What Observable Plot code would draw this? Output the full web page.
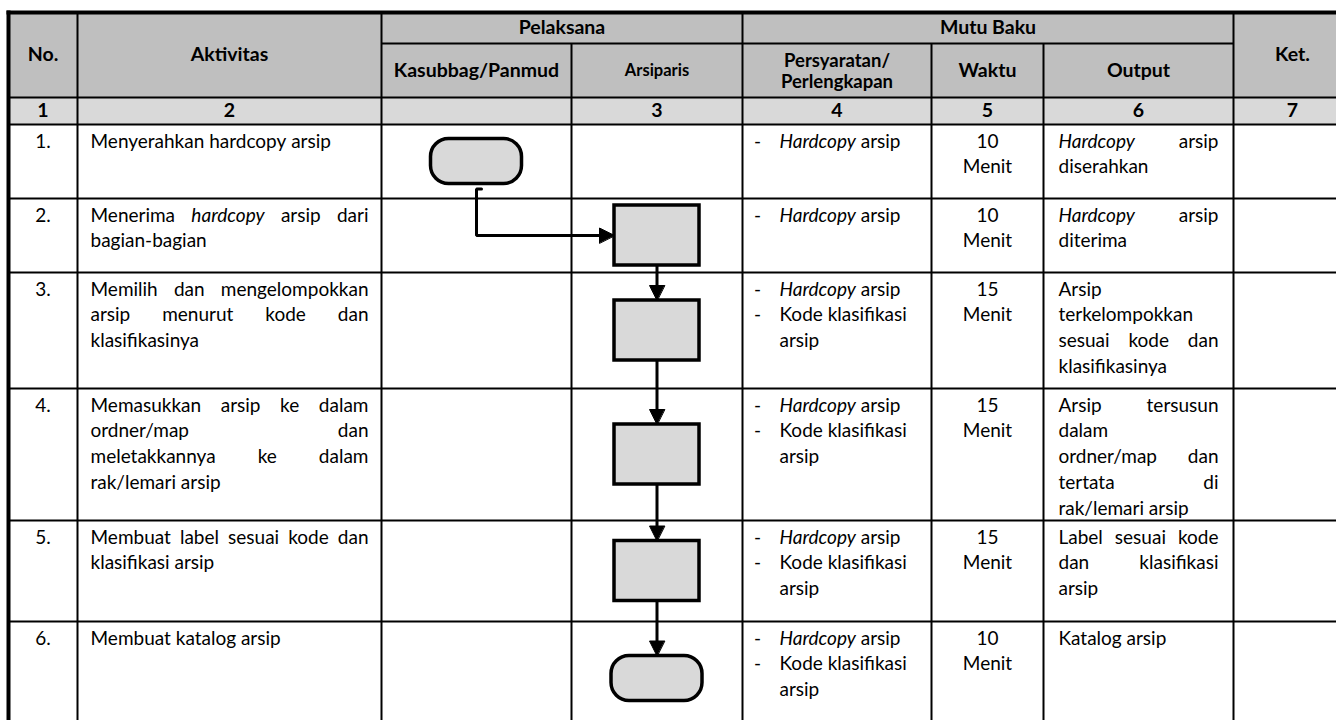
<!DOCTYPE html>
<html><head><meta charset="utf-8">
<script src="https://cdn.jsdelivr.net/npm/d3@7"></script>
<script src="https://cdn.jsdelivr.net/npm/@observablehq/plot@0.6"></script>
<style>
html,body{margin:0;padding:0;background:#fff;overflow:hidden;}
#chart svg{display:block;overflow:hidden;}
</style>
</head><body><div id="chart"></div>
<script>
// ---------------- data ----------------
const headerGroups = ["Pelaksana", "Mutu Baku"];
const columnHeaders = ["No.", "Aktivitas", "Kasubbag/Panmud", "Arsiparis", "Persyaratan/\nPerlengkapan", "Waktu", "Output", "Ket."];
const columnNumbers = ["1", "2", "", "3", "4", "5", "6", "7"];

const stepNo = ["1.", "2.", "3.", "4.", "5.", "6."];
const activities = [
  "Menyerahkan hardcopy arsip",
  "Menerima *hardcopy* arsip dari\nbagian-bagian",
  "Memilih dan mengelompokkan\narsip menurut kode dan\nklasifikasinya",
  "Memasukkan arsip ke dalam\nordner/map dan\nmeletakkannya ke dalam\nrak/lemari arsip",
  "Membuat label sesuai kode dan\nklasifikasi arsip",
  "Membuat katalog arsip"
];
const stepExecutor = [0, 1, 1, 1, 1, 1];           // 0 = Kasubbag/Panmud, 1 = Arsiparis
const stepSymbol = ["terminator", "process", "process", "process", "process", "terminator"];
const requirements = [
  ["*Hardcopy* arsip"],
  ["*Hardcopy* arsip"],
  ["*Hardcopy* arsip", "Kode klasifikasi\narsip"],
  ["*Hardcopy* arsip", "Kode klasifikasi\narsip"],
  ["*Hardcopy* arsip", "Kode klasifikasi\narsip"],
  ["*Hardcopy* arsip", "Kode klasifikasi\narsip"]
];
const durations = [10, 10, 15, 15, 15, 10];
const durationUnit = "Menit";
const outputs = [
  "*Hardcopy* arsip\ndiserahkan",
  "*Hardcopy* arsip\nditerima",
  "Arsip\nterkelompokkan\nsesuai kode dan\nklasifikasinya",
  "Arsip tersusun\ndalam\nordner/map dan\ntertata di\nrak/lemari arsip",
  "Label sesuai kode\ndan klasifikasi\narsip",
  "Katalog arsip"
];

// ---------------- layout ----------------
const W = 1336, H = 720;
const colEdges = [8, 77, 381, 571, 742, 931, 1043, 1233, 1351];
const rowEdges = [12, 43, 97, 124, 198, 272, 388, 520, 621, 735];
const FONT = "Lato, 'Open Sans', sans-serif";
const FS = 19, HFS = 19.5, LH = 25.8, PAD = 13;
const colCenter = i => (colEdges[i] + colEdges[i + 1]) / 2;

const ctx = document.createElement("canvas").getContext("2d");
function measure(t, italic) { ctx.font = `${italic ? "italic " : ""}${FS}px Lato`; return ctx.measureText(t).width; }
function tokens(line) {
  return line.split(" ").filter(s => s.length).map(s => {
    const it = /^\*.*\*$/.test(s);
    return {t: it ? s.slice(1, -1) : s, italic: it};
  });
}
function layoutLines(lines, x0, width, y0, justify, out) {
  const space = measure(" ", false);
  lines.forEach((line, i) => {
    const ws = tokens(line);
    const widths = ws.map(w => measure(w.t, w.italic));
    const sum = d3.sum(widths);
    let gap = space;
    if (justify && i < lines.length - 1 && ws.length > 1) gap = Math.max(space * 0.4, (width - sum) / (ws.length - 1));
    let x = x0;
    ws.forEach((w, j) => { out.push({x, y: y0 + i * LH, t: w.t, italic: w.italic}); x += widths[j] + gap; });
  });
}

// body text
const words = [], centered = [], dashes = [];
stepNo.forEach((no, i) => {
  const top = rowEdges[3 + i], y0 = top + 17;
  centered.push({x: colCenter(0), y: y0, t: no});
  layoutLines(activities[i].split("\n"), colEdges[1] + PAD, colEdges[2] - colEdges[1] - 2 * PAD, y0, true, words);
  let k = 0;
  requirements[i].forEach(item => {
    dashes.push({x: colEdges[4] + 15, y: y0 + k * LH, t: "-"});
    const ls = item.split("\n");
    layoutLines(ls, colEdges[4] + 37, colEdges[5] - colEdges[4] - 48, y0 + k * LH, false, words);
    k += ls.length;
  });
  centered.push({x: colCenter(5), y: y0, t: String(durations[i])});
  centered.push({x: colCenter(5), y: y0 + LH, t: durationUnit});
  layoutLines(outputs[i].split("\n"), colEdges[6] + 15, colEdges[7] - colEdges[6] - 30, y0, true, words);
});

// header text
const hdrMid = (rowEdges[0] + rowEdges[2]) / 2, grpMid = (rowEdges[0] + rowEdges[1]) / 2, subMid = (rowEdges[1] + rowEdges[2]) / 2;
const headerBig = [
  {x: colCenter(0), y: hdrMid, t: columnHeaders[0]},
  {x: colCenter(1), y: hdrMid, t: columnHeaders[1]},
  {x: colCenter(7), y: hdrMid, t: columnHeaders[7]},
  {x: (colEdges[2] + colEdges[4]) / 2, y: grpMid, t: headerGroups[0]},
  {x: (colEdges[4] + colEdges[7]) / 2, y: grpMid, t: headerGroups[1]},
  {x: colCenter(2), y: subMid, t: columnHeaders[2]},
  {x: colCenter(5), y: subMid, t: columnHeaders[5]},
  {x: colCenter(6), y: subMid, t: columnHeaders[6]}
];
const headerTwoLine = [{x: colCenter(4), y: subMid, t: columnHeaders[4]}];
const headerSmall = [{x: colCenter(3), y: subMid, t: columnHeaders[3]}];
const numMid = (rowEdges[2] + rowEdges[3]) / 2;
const numberTexts = columnNumbers.map((t, i) => ({x: colCenter(i), y: numMid, t})).filter(d => d.t);

// fills
const fills = [
  {x1: colEdges[0], x2: colEdges[8], y1: rowEdges[0], y2: rowEdges[2], f: "#bfbfbf"},
  {x1: colEdges[0], x2: colEdges[8], y1: rowEdges[2], y2: rowEdges[3], f: "#d9d9d9"}
];

// grid lines
const bottom = rowEdges[rowEdges.length - 1];
const thin = [], thick = [];
const vTop = [0, 0, 0, 1, 0, 1, 1, 0, 0];
colEdges.forEach((x, i) => {
  const seg = {x1: x, x2: x, y1: rowEdges[vTop[i]], y2: bottom};
  (i === 0 || i === colEdges.length - 1 ? thick : thin).push(seg);
});
thick.push({x1: colEdges[0], x2: colEdges[8], y1: rowEdges[0], y2: rowEdges[0]});
thin.push({x1: colEdges[2], x2: colEdges[7], y1: rowEdges[1], y2: rowEdges[1]});
rowEdges.slice(2, -1).forEach(y => thin.push({x1: colEdges[0], x2: colEdges[8], y1: y, y2: y}));

// flowchart symbols
const dims = {process: [85, 60], terminator: [91, 45]};
const shapes = stepSymbol.map((s, i) => {
  const cx = colCenter(2 + stepExecutor[i]);
  const cy = (rowEdges[3 + i] + rowEdges[4 + i]) / 2;
  const [w, h] = dims[s];
  return {kind: s, cx, cy, x1: cx - w / 2, x2: cx + w / 2, y1: cy - h / 2, y2: cy + h / 2};
});
const conn = [], heads = [];
const HL = 15, HW = 7.5;
for (let i = 1; i < shapes.length; i++) {
  const a = shapes[i - 1], b = shapes[i];
  if (stepExecutor[i] === stepExecutor[i - 1]) {
    conn.push({id: i, x: a.cx, y: a.y2}, {id: i, x: a.cx, y: b.y1 - HL + 1});
    heads.push({id: i, x: b.cx, y: b.y1}, {id: i, x: b.cx - HW, y: b.y1 - HL}, {id: i, x: b.cx + HW, y: b.y1 - HL});
  } else {
    const ys = a.y2 + 5;
    conn.push({id: i, x: a.cx + 5, y: ys}, {id: i, x: a.cx, y: ys}, {id: i, x: a.cx, y: b.cy}, {id: i, x: b.x1 - HL + 1, y: b.cy});
    heads.push({id: i, x: b.x1, y: b.cy}, {id: i, x: b.x1 - HL, y: b.cy - HW}, {id: i, x: b.x1 - HL, y: b.cy + HW});
  }
}

const txt = {fontFamily: FONT, fill: "black"};
const chart = Plot.plot({
  width: W, height: H, margin: 0,
  style: {background: "white", overflow: "hidden"},
  x: {domain: [0, W], range: [0, W], axis: null},
  y: {domain: [0, H], range: [0, H], axis: null},
  marks: [
    Plot.rect(fills, {x1: "x1", x2: "x2", y1: "y1", y2: "y2", fill: "f"}),
    Plot.link(thin, {x1: "x1", y1: "y1", x2: "x2", y2: "y2", stroke: "black", strokeWidth: 2}),
    Plot.link(thick, {x1: "x1", y1: "y1", x2: "x2", y2: "y2", stroke: "black", strokeWidth: 4, strokeLinecap: "square"}),
    Plot.line(conn, {x: "x", y: "y", z: "id", stroke: "black", strokeWidth: 3, strokeLinejoin: "miter", curve: "linear"}),
    Plot.line(heads, {x: "x", y: "y", z: "id", fill: "black", stroke: "black", strokeWidth: 1, curve: "linear-closed"}),
    Plot.rect(shapes.filter(d => d.kind === "process"), {x1: "x1", x2: "x2", y1: "y1", y2: "y2", fill: "#d9d9d9", stroke: "black", strokeWidth: 3.5}),
    Plot.rect(shapes.filter(d => d.kind === "terminator"), {x1: "x1", x2: "x2", y1: "y1", y2: "y2", rx: 18, fill: "#d9d9d9", stroke: "black", strokeWidth: 3.5}),
    Plot.text(headerBig, {x: "x", y: "y", text: "t", fontSize: HFS, fontWeight: "bold", ...txt}),
    Plot.text(headerTwoLine, {x: "x", y: "y", text: "t", fontSize: 18.5, fontWeight: "bold", lineHeight: 1.15, ...txt}),
    Plot.text(headerSmall, {x: "x", y: "y", text: "t", fontSize: 16.5, fontWeight: "bold", ...txt}),
    Plot.text(numberTexts, {x: "x", y: "y", text: "t", fontSize: HFS, fontWeight: "bold", ...txt}),
    Plot.text(centered, {x: "x", y: "y", text: "t", fontSize: FS, ...txt}),
    Plot.text(dashes, {x: "x", y: "y", text: "t", fontSize: FS, ...txt}),
    Plot.text(words.filter(d => !d.italic), {x: "x", y: "y", text: "t", textAnchor: "start", fontSize: FS, ...txt}),
    Plot.text(words.filter(d => d.italic), {x: "x", y: "y", text: "t", textAnchor: "start", fontSize: FS, fontStyle: "italic", ...txt})
  ]
});
document.getElementById("chart").appendChild(chart);
</script>
</body></html>
